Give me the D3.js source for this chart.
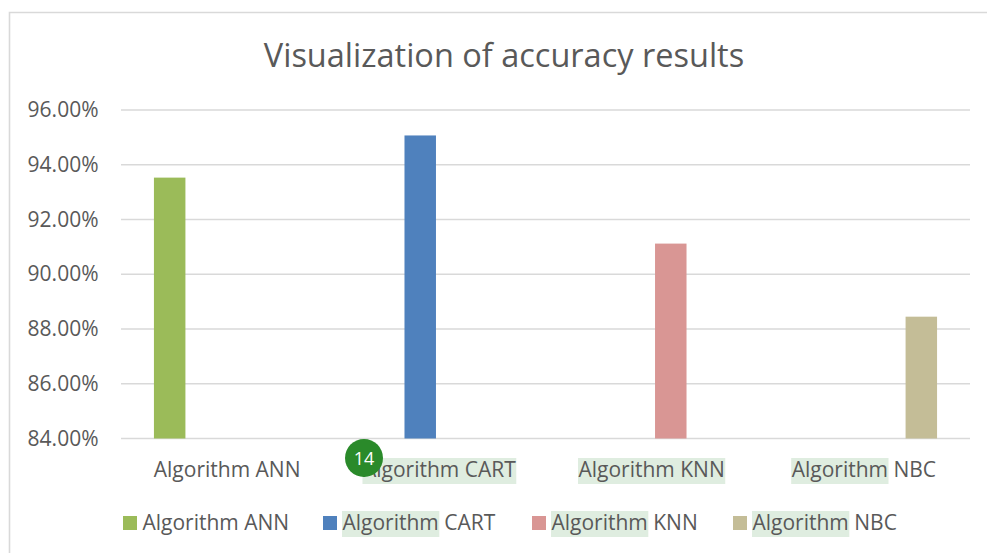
<!DOCTYPE html>
<html><head><meta charset="utf-8">
<script src="https://cdn.jsdelivr.net/npm/d3@7/dist/d3.min.js"></script>
<style>html,body{margin:0;padding:0;background:#fff}svg{display:block}text{font-family:"Open Sans",sans-serif;fill:#595959}</style>
</head><body><svg id="c" width="987" height="553"></svg>
<script>
const chartTitle = "Visualization of accuracy results";
const categories = ["Algorithm ANN","Algorithm CART","Algorithm KNN","Algorithm NBC"];
const accuracy = [93.53, 95.07, 91.12, 88.45];
const colors = ["#9BBB59","#4F81BD","#D99694","#C4BD97"];
const yTicks = [84,86,88,90,92,94,96];
const axisHighlight = [null, "Algorithm CART", "Algorithm KNN", "Algorithm"];
const legendHighlight = [null, "Algorithm", "Algorithm", "Algorithm"];
const legendX = [123, 323, 532, 733];
const badge = "14";

const svg = d3.select("#c");
const m = {l:121, r:970, t:110, b:438.5};
const HL = "#dfede0";
const FS = 21;

// frame: open on the right and bottom, as cropped in the reference
svg.append("path").attr("d","M9.5,553V12.5H987").attr("fill","none").attr("stroke","#d9d9d9").attr("stroke-width",1.6);

svg.append("text").attr("x",504).attr("y",67).attr("text-anchor","middle")
  .attr("font-size",32.5).text(chartTitle);

const y = d3.scaleLinear().domain([84,96]).range([m.b,m.t]);
const x0 = d3.scaleBand().domain(categories).range([m.l,m.r]);
const x1 = d3.scaleBand().domain(categories).range([0,x0.bandwidth()]).paddingInner(0.178).paddingOuter(0.86);

svg.append("g").selectAll("line").data(yTicks).join("line")
  .attr("x1",m.l).attr("x2",m.r).attr("y1",d=>y(d)).attr("y2",d=>y(d))
  .attr("stroke","#d9d9d9").attr("stroke-width",1.5);

svg.append("g").selectAll("text").data(yTicks).join("text")
  .attr("x",98.5).attr("y",d=>y(d)+7).attr("text-anchor","end").attr("font-size",FS)
  .text(d=>d.toFixed(2)+"%");

svg.append("g").selectAll("rect").data(categories).join("rect")
  .attr("x",d=>x0(d)+x1(d)).attr("width",x1.bandwidth())
  .attr("y",(d,i)=>y(accuracy[i])).attr("height",(d,i)=>y(84)-y(accuracy[i]))
  .attr("fill",(d,i)=>colors[i]);

function highlighted(g, txt, hl, xPos, yBase, anchor){
  const r = g.append("rect").attr("fill",HL);
  const t = g.append("text").attr("x",xPos).attr("y",yBase).attr("text-anchor",anchor).attr("font-size",FS).text(txt);
  if(hl){
    const n = t.node();
    const start = n.getStartPositionOfChar(0).x;
    const w = n.getSubStringLength(0,hl.length);
    r.attr("x",start-0.5).attr("y",yBase-19).attr("width",w+1).attr("height",26);
  } else r.remove();
}
const ax = svg.append("g");
categories.forEach((c,i)=>highlighted(ax,c,axisHighlight[i],x0(c)+x0.bandwidth()/2,477,"middle"));
const lg = svg.append("g");
categories.forEach((c,i)=>{
  lg.append("rect").attr("x",legendX[i]).attr("y",516).attr("width",14).attr("height",14).attr("fill",colors[i]);
  highlighted(lg,c,legendHighlight[i],legendX[i]+19.5,530,"start");
});

svg.append("circle").attr("cx",364).attr("cy",458).attr("r",19).attr("fill","#2a8a2a");
svg.append("text").attr("x",364).attr("y",464.5).attr("text-anchor","middle").attr("font-size",18).style("fill","#fff").text(badge);
</script></body></html>
